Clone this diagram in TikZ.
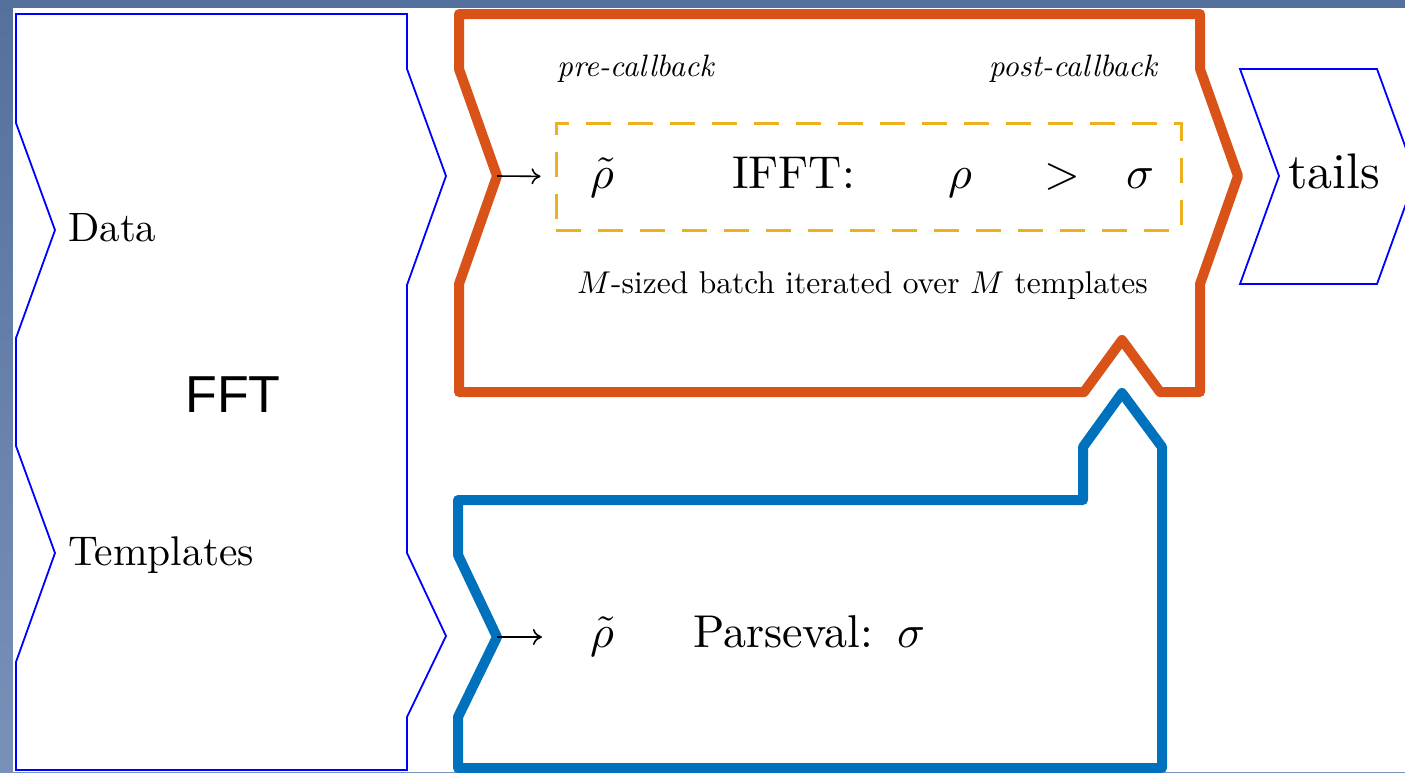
\documentclass[tikz,border=0pt]{standalone}
\usepackage{fontspec}
\setmainfont{lmroman10}[Extension=.otf, UprightFont=*-regular, ItalicFont=*-italic]
\newfontfamily\ffont{Liberation Sans}
\DeclareFontShape{OML}{cmm}{m}{it}{<->cmmi10}{}
\DeclareFontShape{OT1}{cmr}{m}{n}{<->cmr10}{}
\DeclareFontShape{OMS}{cmsy}{m}{n}{<->cmsy10}{}
\DeclareFontShape{OMX}{cmex}{m}{n}{<->cmex10}{}
\usetikzlibrary{arrows.meta}
\definecolor{bgtop}{HTML}{54709C}
\definecolor{bgbot}{HTML}{7891B9}
\definecolor{mblue}{HTML}{0000FF}
\definecolor{morange}{HTML}{D95319}
\definecolor{mdblue}{HTML}{0072BD}
\definecolor{myellow}{HTML}{EDB120}
\newcommand{\fs}[1]{\fontsize{#1}{#1}\selectfont}
\tikzset{
 thinshape/.style={draw=mblue, line width=1.8pt},
 thickorange/.style={draw=morange, line width=10pt, line join=round},
 thickblue/.style={draw=mdblue, line width=10pt, line join=round},
 dashbox/.style={draw=myellow, line width=3pt, dash pattern=on 25pt off 17pt, inner sep=0pt},
 arr/.style={-{To[length=9pt,width=16pt]}, line width=1.6pt},
 lbl/.style={inner sep=0pt, text=black},
}
\begin{document}
\begin{tikzpicture}[x=1pt,y=-1pt]
\useasboundingbox (0,0) rectangle (1405,772);
\clip (0,0) rectangle (1405,772);
% background
\shade[top color=bgtop,bottom color=bgbot] (0,0) rectangle (1405,772);
\fill[white] (13,8) rectangle (1405,772);
% FFT shape
\draw[thinshape] (16,14) -- (407,14) -- (407,69) -- (446,176) -- (407,285) -- (407,553) -- (446,636) -- (407,717) -- (407,770) -- (16,770) -- (16,662) -- (55,553) -- (16,446) -- (16,338) -- (55,230) -- (16,123) -- cycle;
% tails shape
\draw[thinshape] (1240,69) -- (1377,69) -- (1416,176) -- (1377,284) -- (1240,284) -- (1279,176) -- cycle;
% orange shape
\draw[thickorange] (459,14) -- (1200,14) -- (1200,69) -- (1238,176) -- (1200,284) -- (1200,392) -- (1160,392) -- (1122,340) -- (1084,392) -- (459,392) -- (459,284) -- (497,176) -- (459,69) -- cycle;
% blue shape
\draw[thickblue] (458,500) -- (1083,500) -- (1083,447) -- (1122,393) -- (1162,447) -- (1162,768) -- (458,768) -- (458,717) -- (497,637) -- (458,555) -- cycle;
\coordinate (otip) at (497,176);
\coordinate (btip) at (497,637);
% dashed box
\node[dashbox, minimum width=625pt, minimum height=107pt] (box) at (868.5,176.5) {};
% labels
\node[lbl, anchor=base west, font=\fs{41}] (data) at (68,241) {Data};
\node[lbl, anchor=base west, font=\fs{41.5}] (templ) at (68,565) {Templates};
\node[lbl, anchor=base, font=\ffont\fs{52}] (fft) at (233,412) {FFT};
\node[lbl, anchor=base west, font=\itshape\fs{31}] (pre) at (557,76) {pre-callback};
\node[lbl, anchor=base east, font=\itshape\fs{31}] (post) at (1157,76) {post-callback};
\node[lbl, anchor=base, font=\fs{46}] (rt1) at (602,188) {$\tilde\rho$};
\node[lbl, anchor=base west, font=\fs{46}] (ifft) at (732,188) {IFFT:};
\node[lbl, anchor=base, font=\fs{46}] (rho) at (960,188) {$\rho$};
\node[lbl, anchor=base, font=\fs{46}] (gt) at (1062,188) {$>$};
\node[lbl, anchor=base, font=\fs{46}] (sig1) at (1140,188) {$\sigma$};
\node[lbl, anchor=base west, font=\fs{31.5}] (batch) at (577,293) {$M$-sized batch iterated over $M$ templates};
\node[lbl, anchor=base west, font=\fs{50}] (tails) at (1288,188) {tails};
\node[lbl, anchor=base, font=\fs{46}] (rt2) at (602,647) {$\tilde\rho$};
\node[lbl, anchor=base west, font=\fs{46}] (pars) at (693,647) {Parseval:};
\node[lbl, anchor=base, font=\fs{46}] (sig2) at (911,647) {$\sigma$};
% arrows
\draw[arr, shorten >=14pt] (otip) -- (box.west);
\draw[arr, shorten >=48pt] (btip) -- (rt2.west |- btip);
\end{tikzpicture}
\end{document}
